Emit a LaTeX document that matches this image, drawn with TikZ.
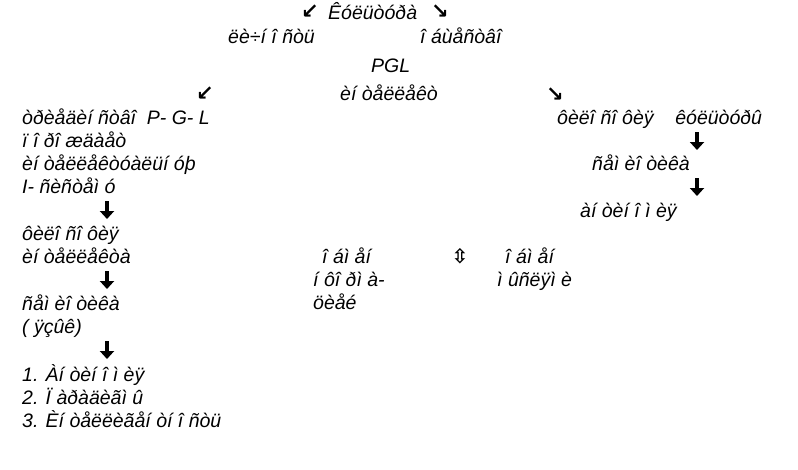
\documentclass[tikz,border=0pt]{standalone}
\usepackage{fontspec}
\setmainfont{Liberation Sans}
\newfontfamily\arrowfont{DejaVu Sans}
\usetikzlibrary{arrows.meta}

\tikzset{
  txt/.style={font=\itshape\fontsize{19.5}{21}\selectfont, inner sep=0pt},
  lefttxt/.style={txt, anchor=base west},
  slant/.style={font=\arrowfont\bfseries\fontsize{21}{22}\selectfont, inner sep=0pt},
  downarr/.style={line width=3.4pt, -{Triangle[length=8pt,width=14pt]}}
}

\begin{document}
\begin{tikzpicture}[x=1pt,y=-1pt]
    \useasboundingbox (0,0) rectangle (798,469);
    \node[slant] (sw1) at (310,12) {↙};
    \node[lefttxt] (kult) at (328,19) {Êóëüòóðà};
    \node[slant] (se1) at (440,12) {↘};
    \node[lefttxt] (lich) at (228,43) {ëè÷í î ñòü};
    \node[lefttxt] (obsh) at (420,43) {î áùåñòâî};
    \node[lefttxt] (pgl) at (371,72) {PGL};
    \node[slant] (sw2) at (205,94) {↙};
    \node[lefttxt] (intel) at (340,100) {èí òåëëåêò};
    \node[slant] (se2) at (555,95) {↘};
    % left column
    \node[lefttxt] (trie) at (22,124) {òðèåäèí ñòâî \ P- G- L};
    \node[lefttxt] (porozh) at (22,147) {ï î ðî æäàåò};
    \node[lefttxt] (intelu) at (22,170) {èí òåëëåêòóàëüí óþ};
    \node[lefttxt] (isys) at (22,193) {I- ñèñòåì ó};
    \node[lefttxt] (phil) at (22,240) {ôèëî ñî ôèÿ};
    \node[lefttxt] (intela) at (22,263) {èí òåëëåêòà};
    \node[lefttxt] (semio) at (22,310) {ñåì èî òèêà};
    \node[lefttxt] (yazyk) at (22,333) {( ÿçûê)};
    \node[lefttxt] (ant) at (22,381) {1. Àí òèí î ì èÿ};
    \node[lefttxt] (par) at (22,404) {2. Ï àðàäèãì û};
    \node[lefttxt] (intg) at (22,427) {3. Èí òåëëèãåí òí î ñòü};
    \coordinate (la1) at (107,201);
    \coordinate (la2) at (107,271);
    \coordinate (la3) at (107,341);
    \foreach \c in {la1,la2,la3}
      \draw[downarr] (\c) -- ++(0,18);
    % middle
    \node[lefttxt] (obm1) at (322,263) {î áì åí};
    \node[lefttxt] (inf) at (313,286) {í ôî ðì à-};
    \node[lefttxt] (ciey) at (313,309) {öèåé};
    \node[font=\arrowfont\bfseries\fontsize{20}{21}\selectfont, inner sep=0pt] (exch) at (460,256) {⇳};
    \node[lefttxt] (obm2) at (505,263) {î áì åí};
    \node[lefttxt] (mysl) at (497,286) {ì ûñëÿì è};
    % right column
    \node[lefttxt] (philk) at (557,124) {ôèëî ñî ôèÿ \ \ \ êóëüòóðû};
    \node[lefttxt] (semior) at (592,170) {ñåì èî òèêà};
    \node[lefttxt] (antr) at (580,217) {àí òèí î ì èÿ};
    \coordinate (ra1) at (697,132);
    \coordinate (ra2) at (697,178);
    \foreach \c in {ra1,ra2}
      \draw[downarr] (\c) -- ++(0,18);
\end{tikzpicture}
\end{document}
